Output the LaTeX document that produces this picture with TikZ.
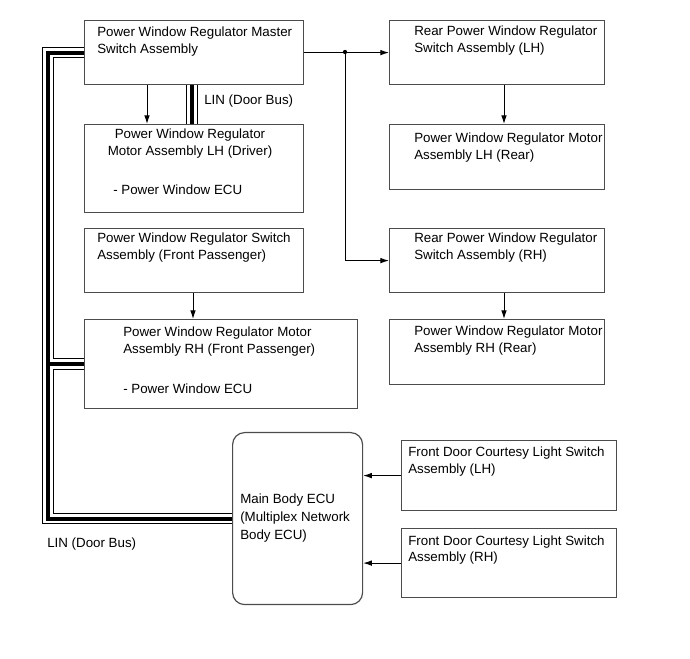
\documentclass[tikz,border=0pt]{standalone}
\usepackage{fontspec}
\setmainfont{Liberation Sans}
\usetikzlibrary{arrows.meta, positioning, calc, backgrounds}

\begin{document}
\begin{tikzpicture}[x=0.75pt, y=-0.75pt,
  unit/.style={rectangle, draw=black!70, fill=white, line width=0.9pt,
               anchor=north west, inner sep=0},
  ecubox/.style={unit, rounded corners=9pt},
  lbl/.style={anchor=base west, inner sep=0, align=left,
              font=\fontsize{10pt}{12.75pt}\selectfont},
  arr/.style={-{Latex[length=6.5pt, width=4.2pt]}, line width=0.7pt}
]
  \useasboundingbox (0,0) rectangle (690,659);

  % left column
  \node[unit, minimum width=164.25pt, minimum height=48pt]    (master)   at (84,20)  {};
  \node[unit, minimum width=164.25pt, minimum height=66pt]    (motorLH)  at (84,124) {};
  \node[unit, minimum width=164.25pt, minimum height=48pt]    (switchFP) at (84,228) {};
  \node[unit, minimum width=204.75pt, minimum height=66.75pt] (motorRH)  at (84,319) {};

  % right column
  \node[unit, minimum width=161.25pt, minimum height=48pt]    (rearLH)   at (389,20)  {};
  \node[unit, minimum width=161.25pt, minimum height=48.75pt] (motorLHr) at (389,124) {};
  \node[unit, minimum width=161.25pt, minimum height=48pt]    (rearRH)   at (389,228) {};
  \node[unit, minimum width=161.25pt, minimum height=48.75pt] (motorRHr) at (389,319) {};

  % body ECU and door switches
  \node[ecubox, minimum width=97.5pt, minimum height=129pt]   (ecu)    at (232,432) {};
  \node[unit, minimum width=161.25pt, minimum height=52.5pt]  (doorLH) at (401,440) {};
  \node[unit, minimum width=161.25pt, minimum height=51.75pt] (doorRH) at (401,528) {};

  % texts (base = last line)
  \node[lbl] (masterT) at (97,53.5) {Power Window Regulator Master\\Switch Assembly};
  \node[lbl, anchor=base, align=center] (motorLHT) at (190,156) {Power Window Regulator\\Motor Assembly LH (Driver)};
  \node[lbl] (motorLHE) at (113,195) {- Power Window ECU};
  \node[lbl] (switchFPT) at (97,260) {Power Window Regulator Switch\\Assembly (Front Passenger)};
  \node[lbl] (motorRHT) at (123,353.5) {Power Window Regulator Motor\\Assembly RH (Front Passenger)};
  \node[lbl] (motorRHE) at (123,393.5) {- Power Window ECU};
  \node[lbl] (rearLHT) at (414,53) {Rear Power Window Regulator\\Switch Assembly (LH)};
  \node[lbl] (motorLHrT) at (414,160) {Power Window Regulator Motor\\Assembly LH (Rear)};
  \node[lbl] (rearRHT) at (414,260) {Rear Power Window Regulator\\Switch Assembly (RH)};
  \node[lbl] (motorRHrT) at (414,353) {Power Window Regulator Motor\\Assembly RH (Rear)};
  \node[lbl, font=\fontsize{10pt}{13.7pt}\selectfont] (ecuT) at (240,540) {Main Body ECU\\(Multiplex Network\\Body ECU)};
  \node[lbl] (doorLHT) at (408,474) {Front Door Courtesy Light Switch\\Assembly (LH)};
  \node[lbl] (doorRHT) at (408,562) {Front Door Courtesy Light Switch\\Assembly (RH)};
  \node[lbl] (linA) at (204,105) {LIN (Door Bus)};
  \node[lbl] (linB) at (47,548) {LIN (Door Bus)};

  % LIN door bus
  \coordinate (busx) at (48,0);
  \coordinate (busy) at (192,0);
  \begin{scope}[on background layer]
    \foreach \w/\c in {8.6pt/black, 7.1pt/white, 3pt/black}{
      \draw[line width=\w, \c] (master.west) -| (busx |- ecu.west) -- (ecu.west);
      \draw[line width=\w, \c] (motorRH.west) -- (busx |- motorRH.west);
      \draw[line width=\w, \c] (master.south -| busy) -- (motorLH.north -| busy);
    }
  \end{scope}

  % signal lines
  \foreach \a/\b/\x in {master/motorLH/147, switchFP/motorRH/193,
                        rearLH/motorLHr/504, rearRH/motorRHr/504}
    \draw[arr] (\a.south -| \x,0) -- (\b.north -| \x,0);

  \coordinate (jn) at (345,52);
  \draw[arr] (master.east) -- (rearLH.west);
  \fill (jn) circle (1.6pt);
  \draw[arr] (jn) |- (rearRH.west);

  \draw[arr] (doorLH.west) -- (doorLH.west -| ecu.east);
  \draw[arr] (doorRH.west) -- (doorRH.west -| ecu.east);
\end{tikzpicture}
\end{document}
